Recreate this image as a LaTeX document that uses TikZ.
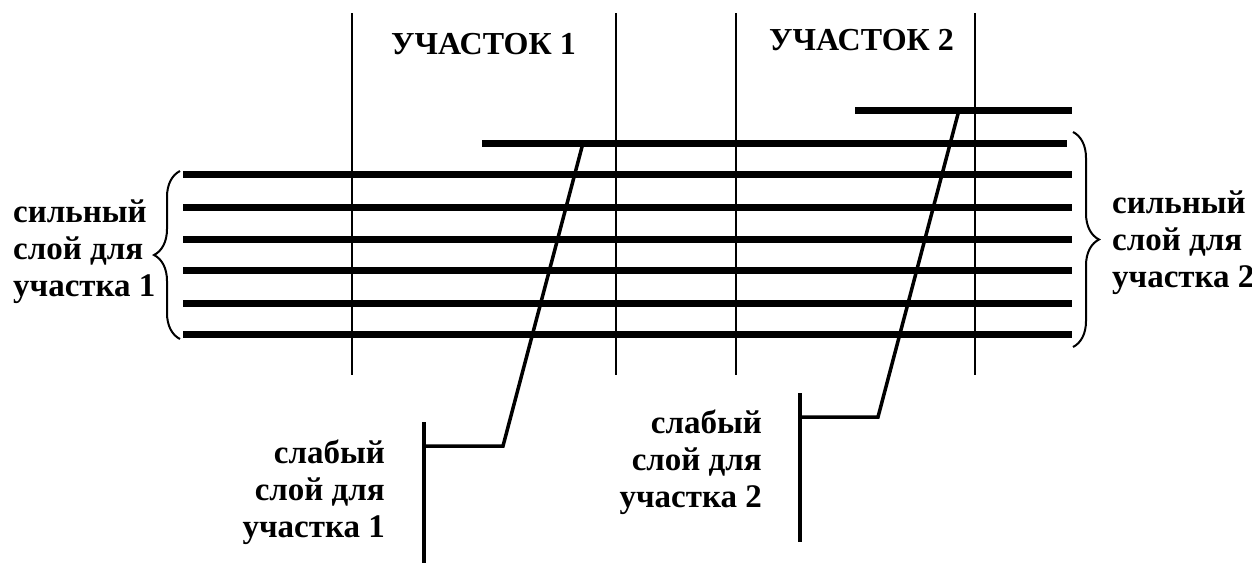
\documentclass[tikz,border=0pt]{standalone}
\usepackage{fontspec}
\setmainfont{Liberation Serif}
\usetikzlibrary{decorations.pathreplacing}
\begin{document}
\begin{tikzpicture}[x=1pt,y=-1pt,
  sect/.style={line width=2.5pt},
  layer/.style={line width=7pt},
  lead/.style={line width=3.5pt, line join=miter},
  lbl/.style={inner sep=0pt, font=\bfseries\fontsize{33}{37}\selectfont},
  ttl/.style={inner sep=0pt, anchor=base west, font=\bfseries\fontsize{32}{36}\selectfont},
  brc/.style={decorate, decoration={brace, amplitude=26pt}, line width=2pt}]
\useasboundingbox (0,0) rectangle (1252,563);
% section boundaries
\foreach \x [count=\i] in {352,616,736,975}{
  \coordinate (v\i t) at (\x,13);
  \coordinate (v\i b) at (\x,375);
  \draw[sect] (v\i t) -- (v\i b);
}
% titles
\node[ttl] (t1) at (391,54) {УЧАСТОК 1};
\node[ttl] (t2) at (769,50) {УЧАСТОК 2};
% strong layers
\foreach \y [count=\i] in {174,207,239,270,303,334}{
  \coordinate (L\i w) at (183,\y);
  \coordinate (L\i e) at (1072,\y);
  \draw[layer] (L\i w) -- (L\i e);
}
% top weak layers
\coordinate (w1w) at (482,143);
\coordinate (w1e) at (1067,143);
\draw[layer] (w1w) -- (w1e);
\coordinate (w2w) at (855,110);
\coordinate (w2e) at (1072,110);
\draw[layer] (w2w) -- (w2e);
% braces
\coordinate (bl1) at (180,339);
\coordinate (bl2) at (180,171);
\draw[brc] (bl1) -- (bl2);
\coordinate (br1) at (1073,132);
\coordinate (br2) at (1073,347);
\draw[brc] (br1) -- (br2);
% leaders
\coordinate (a1) at (583,143);
\coordinate (a2) at (503,446);
\coordinate (a3) at (424,446);
\coordinate (a4) at (424,422);
\coordinate (a5) at (424,563);
\draw[lead] (a1) -- (a2) -- (a3);
\draw[sect,line width=3.5pt] (a4) -- (a5);
\coordinate (b1) at (959,110);
\coordinate (b2) at (878,417);
\coordinate (b3) at (800,417);
\coordinate (b4) at (800,393);
\coordinate (b5) at (800,542);
\draw[lead] (b1) -- (b2) -- (b3);
\draw[sect,line width=3.5pt] (b4) -- (b5);
% labels
\node[lbl, anchor=base west] (s1) at (13,222) {\begin{tabular}[t]{@{}l@{}}сильный\\слой для\\участка 1\end{tabular}};
\node[lbl, anchor=base west] (s2) at (1112,213) {\begin{tabular}[t]{@{}l@{}}сильный\\слой для\\участка 2\end{tabular}};
\node[lbl, anchor=base east] (k1) at (385,463) {\begin{tabular}[t]{@{}r@{}}слабый\\слой для\\участка 1\end{tabular}};
\node[lbl, anchor=base east] (k2) at (762,433) {\begin{tabular}[t]{@{}r@{}}слабый\\слой для\\участка 2\end{tabular}};
\end{tikzpicture}
\end{document}
